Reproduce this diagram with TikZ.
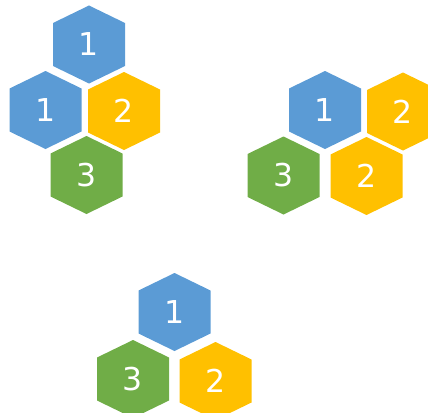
\documentclass[tikz,border=0pt]{standalone}
\usepackage{fontspec}
\setmainfont{DejaVu Sans}
\usepackage{tikz}
\definecolor{hexblue}{HTML}{5B9BD5}
\definecolor{hexgold}{HTML}{FFC000}
\definecolor{hexgreen}{HTML}{70AD47}

\begin{document}
\begin{tikzpicture}[x=1pt, y=-1pt,
    num/.style={text=white, font=\fontsize{31.5}{31.5}\selectfont, inner sep=0pt}]

\useasboundingbox (0,0) rectangle (428,412);

% Celes
\foreach \name/\x/\y/\col/\txt in {
    a1/89/44.5/hexblue/1, a2/45.5/110/hexblue/1,
    a3/124/111/hexgold/2, a4/86.5/175/hexgreen/3,
    b1/325/110/hexblue/1, b2/403/111.5/hexgold/2,
    b3/283.5/175.5/hexgreen/3, b4/366.5/176/hexgold/2,
    c1/174.5/312/hexblue/1, c2/133/379/hexgreen/3,
    c3/215.5/381/hexgold/2}
{
    \fill[\col] (\x,\y) ++(0,-39) -- ++(36,17.5) -- ++(0,43)
        -- ++(-36,17.5) -- ++(-36,-17.5) -- ++(0,-43) -- cycle;
    \node[num] (\name) at (\x,\y) {\txt};
}

\end{tikzpicture}
\end{document}
